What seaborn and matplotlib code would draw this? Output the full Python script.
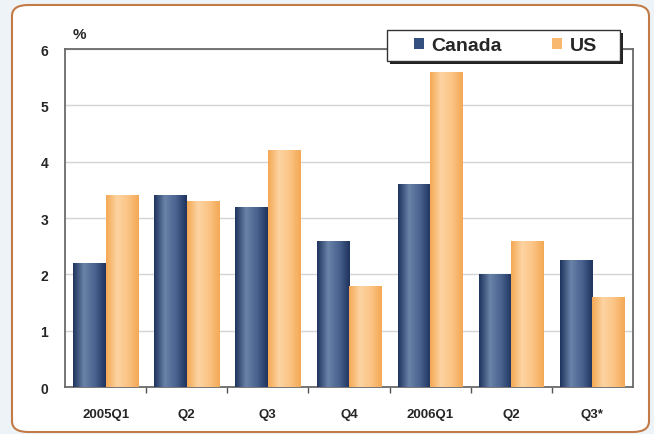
import numpy as np
import pandas as pd
import matplotlib.pyplot as plt
import seaborn as sns
from matplotlib.patches import FancyBboxPatch, Rectangle
from matplotlib.colors import LinearSegmentedColormap

# Data
quarters = ["2005Q1", "Q2", "Q3", "Q4", "2006Q1", "Q2 ", "Q3*"]
canada = [2.2, 3.4, 3.2, 2.6, 3.6, 2.0, 2.25]
us = [3.4, 3.3, 4.2, 1.8, 5.6, 2.6, 1.6]
yticks = [0, 1, 2, 3, 4, 5, 6]

CANADA_COL = "#34507f"
US_COL = "#f8b872"
# light / dark tones for the shaded bars
CANADA_SHADE = ["#1f345f", "#6a83a7", "#4a6390", "#1f345f"]
US_SHADE = ["#f4a955", "#fdd4a2", "#fbc485", "#f4a955"]

df = pd.DataFrame({
    "quarter": quarters * 2,
    "value": canada + us,
    "series": ["Canada"] * len(quarters) + ["US"] * len(quarters),
})

sns.set_style("white")
plt.rcParams["font.family"] = ["Liberation Sans", "DejaVu Sans"]
plt.rcParams["font.weight"] = "bold"

W, H = 654, 435
fig = plt.figure(figsize=(W / 100, H / 100), dpi=100, facecolor="#eef3f7")

# white rounded panel with brown border
panel = FancyBboxPatch((12 / W, 2 / H), 637 / W, 427 / H,
                       boxstyle="round,pad=0,rounding_size=0.025",
                       transform=fig.transFigure, facecolor="white",
                       edgecolor="#c27a46", linewidth=1.5, zorder=-5)
fig.patches.append(panel)

ax = fig.add_axes([65 / W, 1 - 388 / H, 568 / W, 338 / H])
ax.set_facecolor("none")

sns.barplot(data=df, x="quarter", y="value", hue="series",
            palette={"Canada": CANADA_COL, "US": US_COL},
            order=quarters, width=0.8, saturation=1, ax=ax, zorder=3,
            linewidth=0)

# horizontal shading inside each bar
grad = np.linspace(0, 1, 64).reshape(1, -1)
cmaps = {
    "Canada": LinearSegmentedColormap.from_list("ca", CANADA_SHADE),
    "US": LinearSegmentedColormap.from_list("us", US_SHADE),
}
for container, name in zip(ax.containers, ["Canada", "US"]):
    for bar in container:
        x0, w, h = bar.get_x(), bar.get_width(), bar.get_height()
        im = ax.imshow(grad, cmap=cmaps[name], aspect="auto",
                       extent=(x0, x0 + w, 0, h), zorder=3.5)
        im.set_clip_path(bar)
ax.set_xlim(-0.5, len(quarters) - 0.5)
ax.set_ylim(0, 6)

ax.set_yticks(yticks)
ax.set_yticklabels([str(t) for t in yticks], fontsize=10, fontweight="bold")
ax.set_xticks(range(len(quarters)))
ax.set_xticklabels([q.strip() for q in quarters], fontsize=9.5, fontweight="bold")
ax.set_xticks([i - 0.5 for i in range(1, len(quarters))], minor=True)
ax.tick_params(axis="x", which="major", length=0, pad=15)
ax.tick_params(axis="x", which="minor", length=4, width=1, color="#555555",
               direction="out", bottom=True)
ax.tick_params(axis="y", length=4, width=1, color="#555555", direction="out", pad=8)

ax.grid(axis="y", color="#d4d4d4", lw=1, zorder=0)
ax.set_axisbelow(True)
for side in ["left", "bottom", "right", "top"]:
    ax.spines[side].set_visible(True)
    ax.spines[side].set_color("#6a6a6a")
    ax.spines[side].set_linewidth(1.3)

ax.set_xlabel("")
ax.set_ylabel("")
ax.text(73 / W, 1 - 35 / H, "%", transform=fig.transFigure,
        fontsize=11, fontweight="bold", ha="left", va="center")

# legend box with a hard drop shadow, drawn over the top spine
handles, labels = ax.get_legend_handles_labels()
ax.get_legend().remove()
bx, by, bw, bh = 387, 31, 233, 31
shadow = Rectangle(((bx + 3) / W, 1 - (by + bh + 3) / H), bw / W, bh / H,
                   transform=fig.transFigure, facecolor="#222222",
                   edgecolor="none", zorder=5)
box = Rectangle((bx / W, 1 - (by + bh) / H), bw / W, bh / H,
                transform=fig.transFigure, facecolor="white",
                edgecolor="#333333", linewidth=1, zorder=6)
fig.patches.extend([shadow, box])
leg = fig.legend(handles, labels, loc="center",
                 bbox_to_anchor=((bx + bw / 2 + 2) / W, 1 - (by + bh / 2) / H),
                 ncol=2, frameon=False, handlelength=0.5, handleheight=0.5,
                 columnspacing=2.6, handletextpad=0.4, borderpad=0,
                 prop={"size": 14, "weight": "bold"})
leg.set_zorder(10)

fig.savefig("out.png", dpi=100, facecolor=fig.get_facecolor())
